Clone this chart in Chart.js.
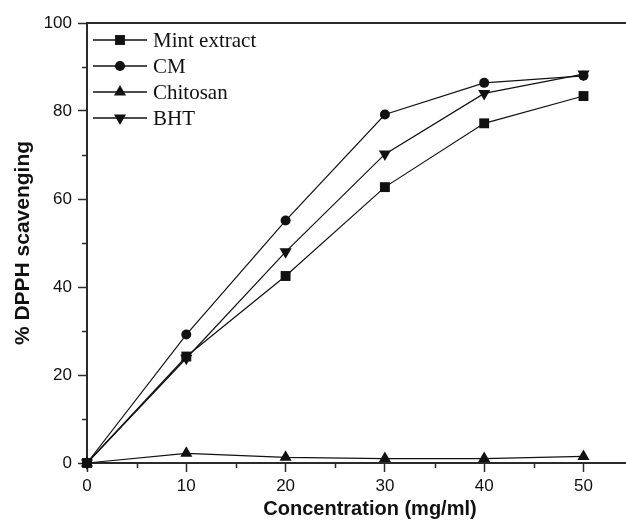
<!DOCTYPE html>
<html>
<head>
<meta charset="utf-8">
<script src="https://cdn.jsdelivr.net/npm/chart.js@4.4.1/dist/chart.umd.min.js"></script>
<style>
  html, body { margin: 0; padding: 0; background: #fff; }
  #frame { width: 626px; height: 521px; overflow: hidden; position: relative; }
  canvas { display: block; }
</style>
</head>
<body>
<div id="frame"><canvas id="c" width="680" height="521"></canvas></div>
<script>
// Concentration of each sample (mg/ml)
const concentrations = [0, 10, 20, 30, 40, 50];

// % DPPH radical scavenging per sample
const mintExtract = [0, 24.2, 42.5, 62.7, 77.2, 83.4];
const cmValues    = [0, 29.2, 55.1, 79.2, 86.4, 88.0];
const chitosan    = [0, 2.2, 1.3, 1.0, 1.0, 1.5];
const bhtValues   = [0, 23.8, 48.0, 70.2, 84.0, 88.4];

// Axis ticks
const xMajorTicks = [0, 10, 20, 30, 40, 50];
const xMinorTicks = [5, 15, 25, 35, 45, 55];
const yMajorTicks = [0, 20, 40, 60, 80, 100];
const yMinorTicks = [10, 30, 50, 70, 90];

const INK = '#111';
const AXIS = '#2a2a2a';
const SANS = '"Liberation Sans", Arial, sans-serif';

function series(label, values, style, radius, rotation) {
  return {
    label,
    data: concentrations.map((x, i) => ({ x, y: values[i] })),
    borderColor: INK,
    backgroundColor: INK,
    borderWidth: 1.2,
    pointStyle: style,
    pointRadius: radius,
    pointHoverRadius: radius,
    pointRotation: rotation || 0,
    pointBorderWidth: 0,
    pointBackgroundColor: INK,
    tension: 0,
    clip: false
  };
}

// Minor tick marks and the top frame line
const frameAndMinorTicks = {
  id: 'frameAndMinorTicks',
  afterDraw(chart) {
    const { ctx, chartArea, scales } = chart;
    ctx.save();
    ctx.strokeStyle = AXIS;
    ctx.lineWidth = 1.5;
    ctx.beginPath();
    yMinorTicks.forEach(v => {
      const y = Math.round(scales.y.getPixelForValue(v)) + 0.5;
      ctx.moveTo(chartArea.left - 5, y);
      ctx.lineTo(chartArea.left, y);
    });
    xMinorTicks.forEach(v => {
      const x = Math.round(scales.x.getPixelForValue(v)) + 0.5;
      ctx.moveTo(x, chartArea.bottom);
      ctx.lineTo(x, chartArea.bottom + 5);
    });
    ctx.stroke();
    ctx.lineWidth = 2;
    ctx.beginPath();
    ctx.moveTo(chartArea.left - 1, chartArea.top);
    ctx.lineTo(chart.width, chartArea.top);
    ctx.stroke();
    ctx.restore();
  }
};

// Legend inside the plot: short line with the series marker, then its name
const insideLegend = {
  id: 'insideLegend',
  afterDatasetsDraw(chart) {
    const { ctx, chartArea } = chart;
    ctx.save();
    chart.data.datasets.forEach((ds, i) => {
      const y = chartArea.top + 17 + i * 26;
      const x0 = chartArea.left + 6;
      const x1 = chartArea.left + 60;
      ctx.strokeStyle = INK;
      ctx.lineWidth = 1.4;
      ctx.beginPath();
      ctx.moveTo(x0, y);
      ctx.lineTo(x1, y);
      ctx.stroke();
      ctx.fillStyle = INK;
      Chart.helpers.drawPoint(ctx, {
        pointStyle: ds.pointStyle,
        rotation: ds.pointRotation,
        radius: ds.pointRadius,
        borderWidth: 0
      }, (x0 + x1) / 2, y);
      ctx.font = '21px "Liberation Serif", "Times New Roman", serif';
      ctx.textBaseline = 'middle';
      ctx.textAlign = 'left';
      ctx.fillText(ds.label, x1 + 6, y + 1);
    });
    ctx.restore();
  }
};

new Chart(document.getElementById('c'), {
  type: 'line',
  data: {
    datasets: [
      series('Mint extract', mintExtract, 'rect', 7),
      series('CM', cmValues, 'circle', 5),
      series('Chitosan', chitosan, 'triangle', 7),
      series('BHT', bhtValues, 'triangle', 7, 180)
    ]
  },
  options: {
    responsive: false,
    animation: false,
    events: [],
    layout: { padding: { left: 7, right: 27, top: 23, bottom: 0 } },
    plugins: { legend: { display: false }, tooltip: { enabled: false } },
    scales: {
      x: {
        type: 'linear',
        min: 0,
        max: 57,
        afterBuildTicks: s => { s.ticks = xMajorTicks.map(v => ({ value: v })); },
        afterFit: s => { s.height = 58; },
        border: { display: true, color: AXIS, width: 2 },
        grid: { drawOnChartArea: false, drawTicks: true, tickLength: 9, tickColor: AXIS, tickWidth: 1.5 },
        ticks: {
          color: INK,
          padding: 4,
          maxRotation: 0,
          font: { family: SANS, size: 17 }
        },
        title: {
          display: true,
          text: 'Concentration (mg/ml)',
          color: INK,
          padding: { top: 0, bottom: 0 },
          font: { family: SANS, size: 20, weight: 'bold' }
        }
      },
      y: {
        type: 'linear',
        min: 0,
        max: 100,
        afterBuildTicks: s => { s.ticks = yMajorTicks.map(v => ({ value: v })); },
        afterFit: s => { s.width = 80; },
        border: { display: true, color: AXIS, width: 2 },
        grid: { drawOnChartArea: false, drawTicks: true, tickLength: 9, tickColor: AXIS, tickWidth: 1.5 },
        ticks: {
          color: INK,
          padding: 6,
          font: { family: SANS, size: 17 }
        },
        title: {
          display: true,
          text: '% DPPH scavenging',
          color: INK,
          padding: { top: 4, bottom: 4 },
          font: { family: SANS, size: 21, weight: 'bold' }
        }
      }
    }
  },
  plugins: [frameAndMinorTicks, insideLegend]
});
</script>
</body>
</html>
